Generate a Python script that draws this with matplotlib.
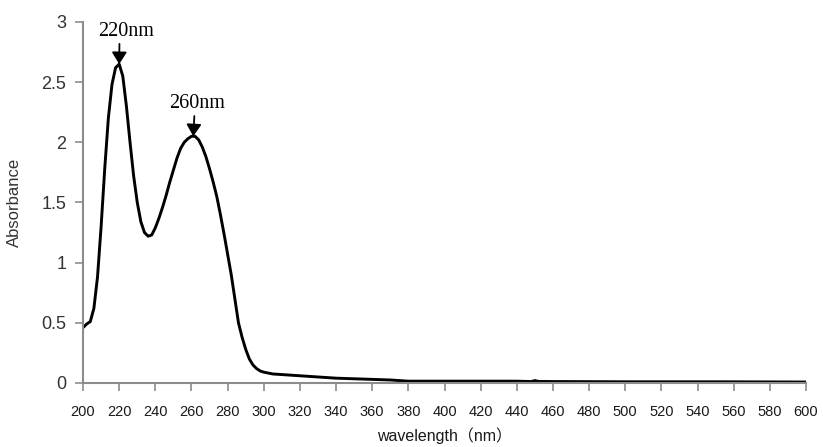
import numpy as np
import matplotlib
matplotlib.use("Agg")
import matplotlib.pyplot as plt

# spectrum
wavelength = [200, 202, 204, 206, 208, 210, 212, 214, 216, 218, 220, 222, 224, 226,
              228, 230, 232, 234, 236, 238, 240, 242, 244, 246, 248, 250, 252, 254,
              256, 258, 260, 262, 264, 266, 268, 270, 272, 274, 276, 278, 280, 282,
              284, 286, 288, 290, 292, 294, 296, 298, 300, 305, 310, 320, 330, 340,
              350, 360, 370, 380, 400, 420, 440, 448, 450, 452, 460, 500, 550, 600]
absorbance = [0.46, 0.49, 0.51, 0.62, 0.88, 1.30, 1.78, 2.20, 2.48, 2.62, 2.65, 2.55,
              2.30, 2.00, 1.72, 1.50, 1.34, 1.25, 1.22, 1.23, 1.29, 1.37, 1.46, 1.56,
              1.67, 1.77, 1.87, 1.95, 2.00, 2.03, 2.05, 2.05, 2.02, 1.96, 1.88, 1.78,
              1.67, 1.55, 1.40, 1.24, 1.07, 0.90, 0.70, 0.50, 0.38, 0.28, 0.20, 0.15,
              0.12, 0.10, 0.09, 0.075, 0.07, 0.06, 0.05, 0.04, 0.035, 0.03, 0.025,
              0.015, 0.015, 0.015, 0.015, 0.012, 0.02, 0.013, 0.012, 0.01, 0.01, 0.008]

peak_wl = [220, 261]
peak_labels = ["220nm", "260nm"]

x_ticks = list(range(200, 601, 20))
y_ticks = [0, 0.5, 1, 1.5, 2, 2.5, 3]
y_ticklabels = ["0", "0.5", "1", "1.5", "2", "2.5", "3"]

axis_grey = "#8c8c8c"

fig = plt.figure(figsize=(8.23, 4.47), dpi=100)
ax = fig.add_axes([0.1009, 0.1432, 0.8784, 0.8076])

ax.plot(wavelength, absorbance, color="black", lw=2.1, solid_joinstyle="round")

# peak annotations: arrow with filled head pointing at the peak
text_dx = [7, 4]
rel_x = [0.38, 0.45]
for wl, lab, dx, rx in zip(peak_wl, peak_labels, text_dx, rel_x):
    a = np.interp(wl, wavelength, absorbance)
    ax.annotate(lab, xy=(wl, a), xytext=(dx, 28), textcoords="offset pixels",
                ha="center", va="baseline", fontsize=14.5,
                family="Liberation Serif", color="black",
                arrowprops=dict(arrowstyle="-|>,head_length=0.4,head_width=0.25",
                                color="black", lw=1.3,
                                mutation_scale=18, shrinkA=0, shrinkB=0,
                                relpos=(rx, 0)))

ax.set_xlim(200, 600)
ax.set_ylim(0, 3)
ax.set_xticks(x_ticks)
ax.set_xticklabels([str(t) for t in x_ticks])
ax.set_yticks(y_ticks)
ax.set_yticklabels(y_ticklabels)

for side in ["top", "right"]:
    ax.spines[side].set_visible(False)
for side in ["left", "bottom"]:
    ax.spines[side].set_color(axis_grey)
    ax.spines[side].set_linewidth(1.5)

ax.tick_params(axis="x", direction="out", length=6, width=1.2, color=axis_grey,
               labelsize=10.5, labelcolor="#1a1a1a", pad=10)
ax.tick_params(axis="y", direction="out", length=6, width=1.2, color=axis_grey,
               labelsize=13, labelcolor="#333333", pad=6)
for lbl in ax.get_xticklabels() + ax.get_yticklabels():
    lbl.set_family("Liberation Sans")

ax.set_xlabel("wavelength（nm）", fontsize=11.5, color="#1a1a1a",
              family=["Liberation Sans", "Noto Sans CJK SC"], labelpad=6)
ax.set_ylabel("Absorbance", fontsize=12, color="#333333",
              family="Liberation Sans", labelpad=14)

fig.savefig("out.png", dpi=100)
